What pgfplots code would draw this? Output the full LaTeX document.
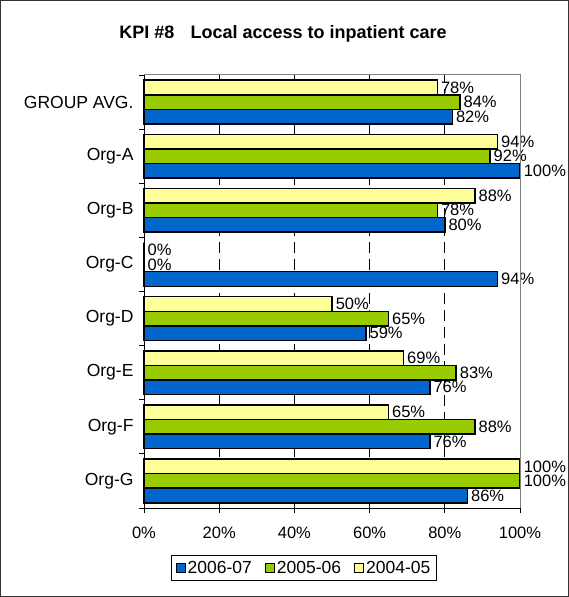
\documentclass[border=0pt]{standalone}
\usepackage{pgfplots}
\pgfplotsset{compat=1.18}
\usepackage{fontspec}
\setmainfont{Liberation Sans}
\definecolor{cBlue}{HTML}{0066CC}
\definecolor{cGreen}{HTML}{99CC00}
\definecolor{cYellow}{HTML}{FFFF99}
\newcommand{\lblfont}{\fontsize{17.5}{20}\selectfont}
\newcommand{\numfont}{\fontsize{16.5}{19}\selectfont}
\begin{document}
\begin{tikzpicture}
\useasboundingbox (-144pt,-89pt) rectangle (425pt,508pt);
\draw[line width=1pt, black!80] (-143.5pt,-88.5pt) rectangle (424.5pt,507.5pt);
\node[font=\bfseries\fontsize{18}{21}\selectfont, anchor=base] at (139pt,469pt) {KPI \#8\hspace{0.9em}Local access to inpatient care};
\begin{axis}[
    xbar=0pt,
    bar width=14.6pt,
    scale only axis,
    width=376pt, height=433pt,
    xmin=0, xmax=100, ymin=-0.5, ymax=7.5,
    axis x line*=bottom, axis y line*=left,
    axis line style={-, black, line width=0.8pt},
    xtick={0,20,...,100},
    xticklabel={\pgfmathprintnumber{\tick}\%},
    ytick={0,...,7},
    yticklabels={Org-G,Org-F,Org-E,Org-D,Org-C,Org-B,Org-A,GROUP AVG.},
    major y tick style={draw=none},
    minor ytick={-0.5,0.5,...,7.5},
    tick align=outside,
    major tick length=5pt, minor tick length=5pt,
    tick style={black, line width=0.8pt},
    extra x ticks={20,40,60,80},
    extra x tick labels={},
    extra x tick style={grid=major, major tick length=0pt},
    grid style={black, line width=0.8pt, dash pattern=on 11pt off 6pt},
    /pgf/number format/assume math mode=true,
    xticklabel style={font=\numfont, yshift=-10pt},
    yticklabel style={font=\lblfont, xshift=-2pt},
    every axis plot/.append style={draw=black, line width=1.5pt},
    nodes near coords={\pgfmathprintnumber{\pgfplotspointmeta}\%},
    every node near coord/.append style={font=\numfont, anchor=west, inner sep=1pt, xshift=2pt, black},
    clip=false,
    legend style={at={(0.4255,-0.1386)}, anchor=center, legend columns=-1,
        draw=black, line width=0.8pt, font=\lblfont, inner sep=4pt,
        /tikz/every even column/.append style={column sep=11pt}},
    legend image code/.code={\draw[#1, draw=black, line width=1pt] (0pt,-4.5pt) rectangle (9pt,4.5pt);},
    after end axis/.code={
        \draw[gray, line width=1pt] (rel axis cs:0,1) -- (rel axis cs:1,1) -- (rel axis cs:1,0);
    },
]
\addplot[fill=cBlue] coordinates {(86,0) (76,1) (76,2) (59,3) (94,4) (80,5) (100,6) (82,7)};
\addplot[fill=cGreen] coordinates {(100,0) (88,1) (83,2) (65,3) (0,4) (78,5) (92,6) (84,7)};
\addplot[fill=cYellow] coordinates {(100,0) (65,1) (69,2) (50,3) (0,4) (88,5) (94,6) (78,7)};
\legend{2006-07,2005-06,2004-05}
\end{axis}
\end{tikzpicture}
\end{document}
